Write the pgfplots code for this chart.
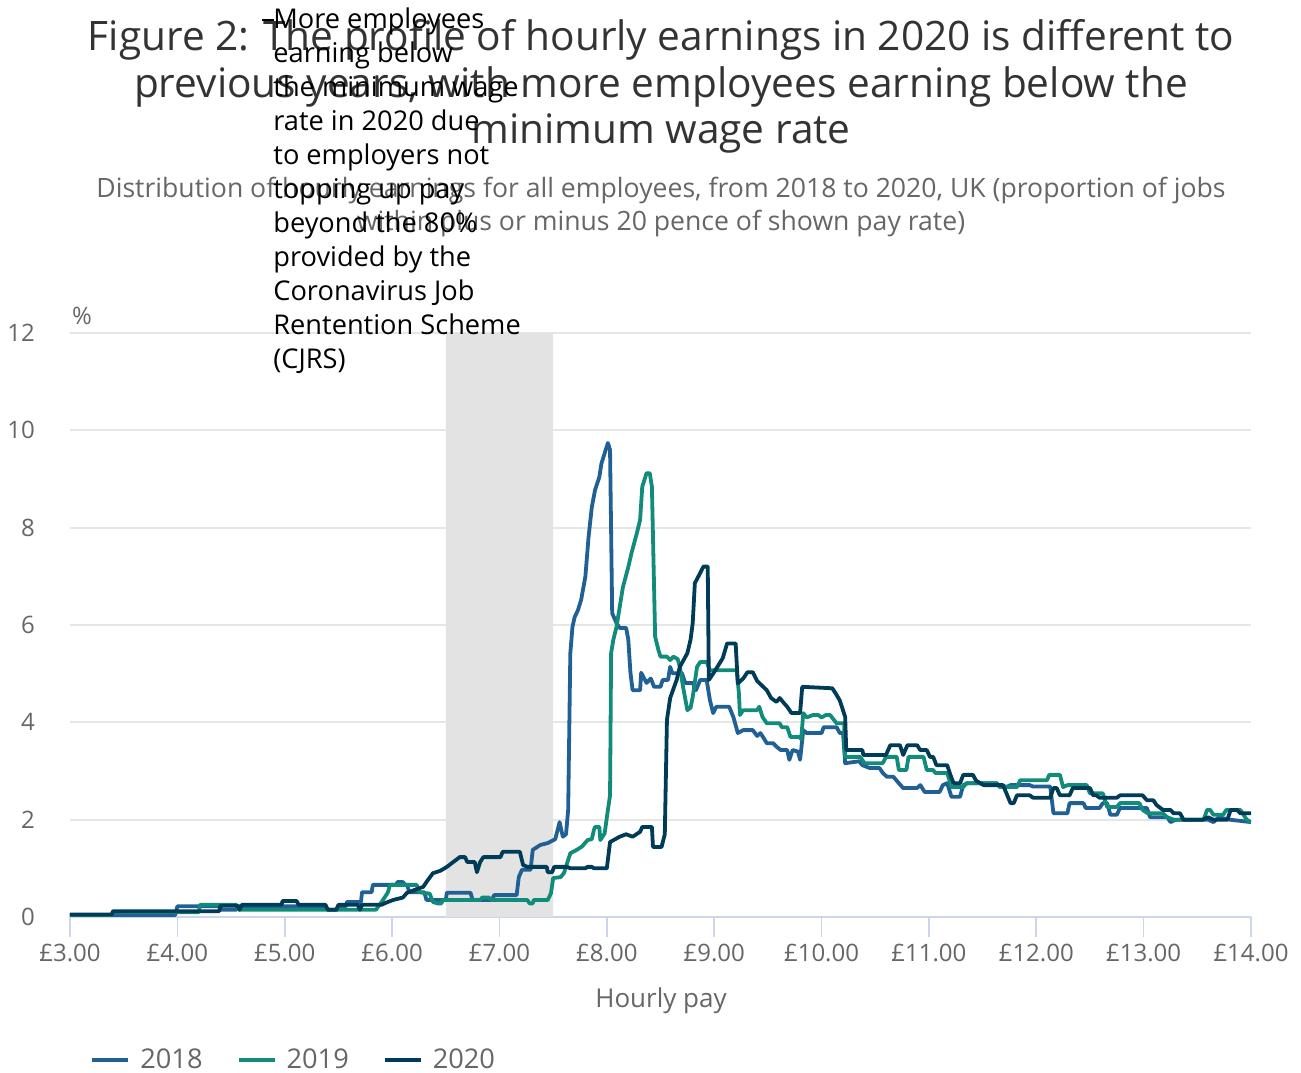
\documentclass[border=0pt]{standalone}
\usepackage{fontspec}
\setmainfont{Open Sans}
\usepackage{pgfplots}
\pgfplotsset{compat=1.18}
\definecolor{c18}{HTML}{206095}
\definecolor{c19}{HTML}{118C7B}
\definecolor{c20}{HTML}{003C57}
\definecolor{axl}{HTML}{CCD6EB}
\definecolor{grd}{HTML}{E6E6E6}
\definecolor{shade}{HTML}{E3E3E3}
\definecolor{lbl}{HTML}{666666}
\definecolor{ttl}{HTML}{333333}
\begin{document}
\begin{tikzpicture}
\begin{axis}[
 at={(0,0)}, anchor=south west, scale only axis,
 width=590.5pt, height=292pt,
 xmin=3, xmax=14, ymin=0, ymax=12,
 axis x line*=bottom, axis y line*=left,
 x axis line style={draw=axl, line width=1pt, -},
 y axis line style={draw=none},
 xtick={3,4,5,6,7,8,9,10,11,12,13,14},
 xticklabels={£3.00,£4.00,£5.00,£6.00,£7.00,£8.00,£9.00,£10.00,£11.00,£12.00,£13.00,£14.00},
 ytick={0,2,4,6,8,10,12},
 ymajorgrids, grid style={grd, line width=1pt},
 tick align=outside, major tick length=10pt,
 xtick style={axl, line width=0.8pt},
 ytick style={draw=none},
 tick label style={font=\fontsize{12}{14}\selectfont, text=lbl},
 /pgf/number format/assume math mode=true,
 yticklabel style={xshift=-4pt},
 legend style={at={(axis description cs:0.0169,-0.245)}, anchor=west, draw=none, fill=none,
   font=\fontsize{13.6}{15}\selectfont, text=lbl, inner sep=0pt,
   /tikz/every odd column/.append style={column sep=3pt},
   /tikz/every even column/.append style={column sep=15pt}},
 legend columns=3,
 legend image code/.code={\draw[line width=2pt] (0pt,0pt) -- (18pt,0pt);},
 line join=round,
]
\addplot[fill=shade, draw=none, forget plot] coordinates {(6.5,0) (7.5,0) (7.5,12) (6.5,12)} \closedcycle;
\addplot[c18, line width=1.9pt] coordinates {
(3.00,0.04) (3.98,0.04) (4.00,0.22) (4.40,0.22) (4.41,0.15) (4.55,0.15) (4.56,0.22) (5.38,0.22) (5.40,0.15) (5.49,0.15) (5.51,0.22) (5.57,0.22) (5.58,0.31) (5.71,0.31) (5.72,0.51) (5.81,0.51) (5.82,0.66) (6.04,0.66) (6.05,0.72) (6.10,0.72) (6.12,0.66) (6.14,0.66) (6.16,0.51) (6.30,0.51) (6.32,0.35) (6.50,0.35) (6.51,0.50) (6.73,0.50) (6.75,0.35) (6.93,0.35) (6.95,0.45) (7.16,0.45) (7.18,0.82) (7.21,0.97) (7.29,0.97) (7.31,1.38) (7.38,1.48) (7.45,1.52) (7.52,1.60) (7.56,1.95) (7.59,1.65) (7.62,1.70) (7.64,2.20) (7.66,5.42) (7.68,5.96) (7.70,6.16) (7.73,6.30) (7.76,6.51) (7.80,6.99) (7.83,7.81) (7.86,8.42) (7.89,8.77) (7.93,9.04) (7.95,9.32) (7.98,9.53) (8.01,9.74) (8.03,9.60) (8.05,6.24) (8.09,6.04) (8.12,5.94) (8.18,5.94) (8.20,5.70) (8.22,5.02) (8.24,4.66) (8.31,4.66) (8.32,5.02) (8.37,4.81) (8.41,4.90) (8.44,4.73) (8.50,4.73) (8.52,4.87) (8.57,4.87) (8.59,5.14) (8.61,5.01) (8.70,5.01) (8.73,4.81) (8.80,4.81) (8.83,4.66) (8.87,4.87) (8.93,4.87) (8.96,4.46) (8.99,4.19) (9.02,4.32) (9.14,4.32) (9.18,4.10) (9.22,3.78) (9.27,3.84) (9.36,3.84) (9.40,3.72) (9.43,3.78) (9.46,3.68) (9.49,3.57) (9.55,3.57) (9.58,3.50) (9.62,3.43) (9.68,3.43) (9.70,3.23) (9.73,3.43) (9.78,3.40) (9.80,3.23) (9.83,3.84) (9.86,3.78) (10.00,3.78) (10.02,3.90) (10.14,3.90) (10.17,3.78) (10.20,3.78) (10.22,3.16) (10.35,3.20) (10.38,3.12) (10.45,3.06) (10.54,3.06) (10.57,2.96) (10.61,2.88) (10.67,2.88) (10.70,2.80) (10.76,2.65) (10.89,2.65) (10.92,2.71) (10.96,2.57) (11.10,2.57) (11.13,2.71) (11.17,2.75) (11.21,2.47) (11.29,2.47) (11.32,2.71) (11.36,2.75) (11.63,2.75) (11.66,2.68) (11.73,2.68) (11.76,2.71) (11.94,2.71) (11.97,2.68) (12.13,2.68) (12.16,2.13) (12.29,2.13) (12.31,2.34) (12.44,2.34) (12.46,2.24) (12.59,2.24) (12.62,2.34) (12.66,2.34) (12.69,2.10) (12.75,2.10) (12.78,2.24) (13.03,2.24) (13.06,2.05) (13.22,2.05) (13.25,1.95) (13.30,2.00) (13.60,2.00) (13.65,1.95) (13.70,2.05) (13.80,2.00) (14.00,1.95)
};
\addlegendentry{2018}
\addplot[c19, line width=1.9pt] coordinates {
(3.00,0.04) (3.39,0.04) (3.40,0.10) (4.20,0.10) (4.21,0.25) (4.55,0.25) (4.57,0.15) (5.85,0.15) (5.90,0.30) (5.96,0.50) (5.98,0.66) (6.23,0.66) (6.25,0.51) (6.35,0.48) (6.38,0.31) (6.42,0.28) (6.46,0.28) (6.47,0.35) (6.82,0.35) (6.84,0.40) (6.90,0.40) (6.93,0.35) (7.26,0.35) (7.28,0.28) (7.31,0.28) (7.32,0.35) (7.45,0.35) (7.48,0.49) (7.50,0.80) (7.57,0.82) (7.60,0.90) (7.66,1.31) (7.72,1.38) (7.77,1.45) (7.82,1.58) (7.86,1.60) (7.88,1.79) (7.89,1.85) (7.93,1.85) (7.94,1.58) (7.96,1.65) (7.98,1.72) (8.01,2.20) (8.03,2.50) (8.04,5.42) (8.06,5.69) (8.09,5.96) (8.12,6.37) (8.15,6.78) (8.20,7.19) (8.23,7.48) (8.28,7.89) (8.31,8.16) (8.33,8.84) (8.34,8.91) (8.37,9.12) (8.40,9.12) (8.42,8.84) (8.45,5.76) (8.48,5.49) (8.50,5.35) (8.56,5.35) (8.59,5.28) (8.62,5.35) (8.66,5.30) (8.68,5.14) (8.71,4.73) (8.75,4.25) (8.78,4.30) (8.80,4.52) (8.84,5.14) (8.87,5.24) (8.93,5.24) (8.96,5.07) (9.21,5.07) (9.23,4.60) (9.24,4.15) (9.27,4.25) (9.40,4.25) (9.42,4.32) (9.45,4.11) (9.49,3.98) (9.61,3.98) (9.63,3.90) (9.68,3.90) (9.71,3.70) (9.80,3.70) (9.81,3.65) (9.83,4.19) (9.86,4.10) (9.92,4.15) (9.97,4.15) (10.00,4.10) (10.04,4.15) (10.08,4.15) (10.14,3.98) (10.21,3.98) (10.22,3.29) (10.36,3.29) (10.40,3.16) (10.57,3.16) (10.60,3.29) (10.70,3.29) (10.72,3.02) (10.79,3.02) (10.81,3.29) (10.95,3.29) (10.98,3.02) (11.04,3.02) (11.06,2.96) (11.17,2.96) (11.21,2.67) (11.32,2.67) (11.35,2.75) (11.63,2.75) (11.66,2.67) (11.82,2.67) (11.85,2.81) (12.10,2.81) (12.12,2.92) (12.22,2.92) (12.25,2.67) (12.29,2.71) (12.47,2.71) (12.50,2.54) (12.62,2.54) (12.66,2.26) (12.75,2.26) (12.78,2.34) (12.96,2.34) (12.99,2.20) (13.04,2.13) (13.18,2.13) (13.22,2.05) (13.28,2.00) (13.56,2.00) (13.59,2.20) (13.62,2.20) (13.65,2.10) (13.74,2.10) (13.77,2.20) (13.90,2.20) (13.96,2.00) (14.00,1.95)
};
\addlegendentry{2019}
\addplot[c20, line width=1.9pt] coordinates {
(3.00,0.05) (3.39,0.05) (3.40,0.12) (4.39,0.12) (4.40,0.23) (4.56,0.23) (4.58,0.15) (4.60,0.25) (4.97,0.25) (4.98,0.33) (5.11,0.33) (5.13,0.25) (5.38,0.25) (5.40,0.15) (5.48,0.15) (5.50,0.25) (5.68,0.25) (5.70,0.15) (5.72,0.25) (5.90,0.25) (5.95,0.30) (6.01,0.35) (6.10,0.40) (6.14,0.50) (6.29,0.62) (6.33,0.75) (6.38,0.90) (6.45,0.95) (6.51,1.03) (6.57,1.13) (6.63,1.23) (6.68,1.23) (6.70,1.13) (6.77,1.13) (6.79,0.92) (6.82,1.13) (6.85,1.23) (7.01,1.23) (7.03,1.34) (7.19,1.34) (7.22,1.07) (7.26,1.03) (7.44,1.03) (7.45,0.92) (7.49,0.92) (7.51,1.03) (7.63,1.03) (7.66,1.00) (7.80,1.00) (7.82,1.03) (7.86,1.03) (7.88,1.00) (8.00,1.00) (8.03,1.54) (8.12,1.65) (8.18,1.70) (8.24,1.65) (8.31,1.75) (8.33,1.85) (8.42,1.85) (8.43,1.44) (8.51,1.44) (8.54,1.70) (8.56,4.05) (8.59,4.50) (8.65,4.87) (8.68,5.14) (8.75,5.42) (8.78,5.70) (8.80,6.04) (8.82,6.86) (8.87,7.07) (8.90,7.20) (8.94,7.20) (8.95,4.87) (8.99,5.00) (9.03,5.14) (9.08,5.32) (9.12,5.62) (9.20,5.62) (9.22,4.80) (9.27,4.90) (9.31,5.03) (9.36,5.03) (9.40,4.85) (9.49,4.66) (9.53,4.50) (9.58,4.42) (9.61,4.50) (9.64,4.42) (9.68,4.32) (9.72,4.19) (9.80,4.19) (9.82,4.73) (10.10,4.70) (10.13,4.60) (10.17,4.45) (10.22,4.11) (10.23,3.43) (10.38,3.43) (10.39,3.33) (10.60,3.33) (10.64,3.53) (10.73,3.53) (10.76,3.33) (10.80,3.53) (10.89,3.53) (10.92,3.43) (10.98,3.43) (11.01,3.29) (11.04,3.29) (11.07,3.12) (11.17,3.12) (11.20,2.92) (11.23,2.75) (11.29,2.75) (11.32,2.92) (11.41,2.92) (11.44,2.80) (11.51,2.71) (11.69,2.71) (11.73,2.50) (11.76,2.34) (11.79,2.34) (11.82,2.50) (11.94,2.50) (11.97,2.45) (12.13,2.45) (12.16,2.65) (12.19,2.65) (12.22,2.50) (12.31,2.50) (12.34,2.65) (12.50,2.65) (12.53,2.50) (12.56,2.50) (12.59,2.45) (12.75,2.45) (12.78,2.50) (12.99,2.50) (13.03,2.40) (13.09,2.40) (13.12,2.30) (13.18,2.20) (13.25,2.20) (13.28,2.13) (13.34,2.13) (13.37,2.00) (13.55,2.00) (13.60,2.05) (13.65,2.00) (13.78,2.00) (13.81,2.20) (13.87,2.20) (13.90,2.13) (14.00,2.13)
};
\addlegendentry{2020}
\end{axis}
% titles
\node[anchor=base, text=ttl, font=\fontsize{20.3}{24}\selectfont] at (295.5pt,433pt) {Figure 2: The profile of hourly earnings in 2020 is different to};
\node[anchor=base, text=ttl, font=\fontsize{20.3}{24}\selectfont] at (295.5pt,409.5pt) {previous years, with more employees earning below the};
\node[anchor=base, text=ttl, font=\fontsize{20.3}{24}\selectfont] at (295.5pt,386.5pt) {minimum wage rate};
\node[anchor=base, text=lbl, font=\fontsize{13.3}{16}\selectfont] at (295.5pt,359.5pt) {Distribution of hourly earnings for all employees, from 2018 to 2020, UK (proportion of jobs};
\node[anchor=base, text=lbl, font=\fontsize{13.3}{16}\selectfont] at (295.5pt,343pt) {within plus or minus 20 pence of shown pay rate)};
% axis titles
\node[anchor=base, text=lbl, font=\fontsize{12}{14}\selectfont] at (6pt,296pt) {\%};
\node[anchor=base, text=lbl, font=\fontsize{13}{15}\selectfont] at (295.5pt,-45pt) {Hourly pay};
% annotation
\draw[black, line width=0.6pt] (96pt,448.5pt) -- (102pt,448.5pt);
\foreach \t [count=\i from 0] in {More employees,earning below,the minimum wage,rate in 2020 due,to employers not,topping up pay,beyond the 80\%,provided by the,Coronavirus Job,Rentention Scheme,(CJRS)}{
  \node[anchor=base west, inner sep=0pt, text=black, font=\fontsize{13.6}{16}\selectfont] at (101.5pt,444pt-\i*17pt) {\t};
}
\pgfresetboundingbox
\path[use as bounding box] (-35pt,-77.5pt) rectangle (615.5pt,458.5pt);
\end{tikzpicture}
\end{document}
